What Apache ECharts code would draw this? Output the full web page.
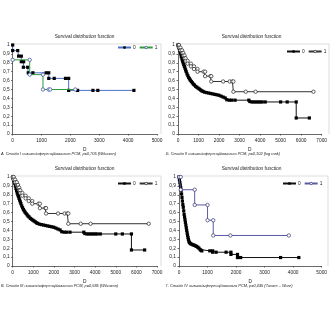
<!DOCTYPE html>
<html>
<head>
<meta charset="utf-8">
<script src="https://cdn.jsdelivr.net/npm/echarts@6/dist/echarts.min.js"></script>
<style>
  html, body { margin: 0; padding: 0; background: #fff; }
  #chart { width: 330px; height: 330px; }
</style>
</head>
<body>
<div id="chart"></div>
<script>
// Kaplan–Meier survival estimates, [days, survival] pairs, one pair per step corner.
const stage1Group0 = [[0,1],[0,0.9375],[175,0.9375],[205,0.875],[300,0.875],[300,0.8125],[380,0.8125],[370,0.75],[520,0.75],[540,0.6875],[700,0.6875],[1160,0.6875],[1250,0.6875],[1250,0.625],[1440,0.625],[1830,0.625],[1940,0.625],[1940,0.49],[2250,0.49],[2780,0.49],[2950,0.49],[4200,0.49]];
const stage1Group1 = [[0,0.833],[590,0.833],[590,0.667],[1050,0.667],[1050,0.5],[1250,0.5],[1300,0.5],[2170,0.5]];

const stage2Group0 = [[0,1],[20,0.99],[40,0.975],[60,0.96],[80,0.945],[100,0.93],[130,0.9],[160,0.87],[190,0.845],[220,0.82],[250,0.8],[280,0.78],[310,0.76],[340,0.74],[370,0.72],[400,0.7],[440,0.675],[480,0.655],[520,0.635],[560,0.62],[600,0.605],[650,0.59],[700,0.575],[750,0.56],[800,0.55],[860,0.535],[920,0.525],[980,0.515],[1040,0.505],[1100,0.495],[1160,0.485],[1220,0.478],[1300,0.47],[1400,0.465],[1500,0.46],[1600,0.455],[1700,0.45],[1800,0.445],[1900,0.44],[2000,0.435],[2100,0.425],[2200,0.415],[2300,0.405],[2380,0.385],[2500,0.38],[2620,0.38],[2780,0.38],[3450,0.38],[3500,0.365],[3600,0.36],[3700,0.36],[3800,0.36],[3900,0.36],[4000,0.36],[4100,0.36],[4250,0.36],[5000,0.36],[5320,0.36],[5760,0.36],[5760,0.18],[6400,0.18]];
const stage2Group1 = [[0,1],[50,1],[50,0.97],[120,0.97],[120,0.94],[200,0.94],[200,0.91],[260,0.91],[260,0.88],[320,0.88],[320,0.85],[370,0.85],[370,0.82],[470,0.82],[470,0.79],[630,0.79],[630,0.76],[780,0.76],[780,0.73],[950,0.73],[950,0.7],[1250,0.7],[1320,0.7],[1320,0.65],[1580,0.65],[1620,0.65],[1620,0.59],[2200,0.59],[2520,0.59],[2650,0.59],[2700,0.59],[2700,0.475],[3300,0.475],[3780,0.475],[6600,0.475]];

const stage3Group0 = [[0,1],[20,0.99],[40,0.975],[60,0.96],[80,0.945],[100,0.93],[130,0.9],[160,0.87],[190,0.845],[220,0.82],[250,0.8],[280,0.78],[310,0.76],[340,0.74],[370,0.72],[400,0.7],[440,0.675],[480,0.655],[520,0.635],[560,0.62],[600,0.605],[650,0.59],[700,0.575],[750,0.56],[800,0.55],[860,0.535],[920,0.525],[980,0.515],[1040,0.505],[1100,0.495],[1160,0.485],[1220,0.478],[1300,0.47],[1400,0.465],[1500,0.46],[1600,0.455],[1700,0.45],[1800,0.445],[1900,0.44],[2000,0.435],[2100,0.425],[2200,0.415],[2300,0.405],[2380,0.385],[2500,0.38],[2620,0.38],[2780,0.38],[3450,0.38],[3500,0.365],[3600,0.36],[3700,0.36],[3800,0.36],[3900,0.36],[4000,0.36],[4100,0.36],[4250,0.36],[5000,0.36],[5320,0.36],[5760,0.36],[5760,0.18],[6400,0.18]];
const stage3Group1 = [[0,1],[50,1],[50,0.97],[120,0.97],[120,0.94],[200,0.94],[200,0.91],[260,0.91],[260,0.88],[320,0.88],[320,0.85],[370,0.85],[370,0.82],[470,0.82],[470,0.79],[630,0.79],[630,0.76],[780,0.76],[780,0.73],[950,0.73],[950,0.7],[1250,0.7],[1320,0.7],[1320,0.65],[1580,0.65],[1620,0.65],[1620,0.59],[2200,0.59],[2520,0.59],[2650,0.59],[2700,0.59],[2700,0.475],[3300,0.475],[3780,0.475],[6600,0.475]];

const stage4Group0 = [[0,1],[15,0.97],[30,0.94],[45,0.91],[60,0.88],[75,0.85],[90,0.81],[105,0.77],[120,0.73],[135,0.69],[150,0.66],[165,0.62],[180,0.58],[195,0.55],[210,0.52],[225,0.49],[240,0.46],[255,0.43],[270,0.4],[285,0.37],[300,0.345],[315,0.32],[330,0.3],[345,0.28],[365,0.265],[390,0.255],[420,0.248],[460,0.242],[500,0.237],[540,0.232],[580,0.226],[620,0.22],[660,0.21],[700,0.2],[740,0.185],[770,0.175],[800,0.17],[1080,0.17],[1180,0.17],[1180,0.155],[1300,0.155],[1650,0.155],[1820,0.155],[1820,0.13],[2050,0.13],[2050,0.095],[2160,0.095],[3560,0.095],[4200,0.095]];
const stage4Group1 = [[0,1],[60,1],[60,0.857],[550,0.857],[550,0.686],[1000,0.686],[1000,0.514],[1200,0.514],[1200,0.343],[1800,0.343],[3850,0.343]];

const chartTitle = 'Survival distribution function';
const captions = [
  'А. Стадія І низькодиференційованого РСМ, p=0,705 (Wilcoxon)',
  'Б. Стадія ІІ низькодиференційованого РСМ, p=0,102 (log rank)',
  'В. Стадія ІІІ низькодиференційованого РСМ, p=0,585 (Wilcoxon)',
  'Г. Стадія IV низькодиференційованого РСМ, p=0,035 (Tarone – Ware)'
];
const xMax = [5000, 7000, 7000, 5000];
const xStep = 1000;
const yTickStep = 0.1;

const FONT = 'Liberation Sans';
const TXT = '#222';

const grids = [
  { left: 12, top: 45, width: 145, height: 89 },
  { left: 178, top: 45, width: 147, height: 89 },
  { left: 12, top: 177, width: 145, height: 89 },
  { left: 179, top: 177, width: 145, height: 89 }
];

const panels = [
  { key: 'A', g0: stage1Group0, g1: stage1Group1, line0: '#4a72c8', line1: '#2e9a3c', circ: '#2c3f96', legendLeft: 117, legendTop: 45 },
  { key: 'B', g0: stage2Group0, g1: stage2Group1, line0: '#111', line1: '#333', circ: '#222', legendLeft: 286, legendTop: 49 },
  { key: 'C', g0: stage3Group0, g1: stage3Group1, line0: '#111', line1: '#333', circ: '#222', legendLeft: 117, legendTop: 181 },
  { key: 'D', g0: stage4Group0, g1: stage4Group1, line0: '#111', line1: '#5a5aa8', circ: '#33336e', legendLeft: 282, legendTop: 181 }
];

const xAxes = [], yAxes = [], series = [], legends = [], titles = [], frames = [];
panels.forEach((p, i) => {
  const g = grids[i];
  xAxes.push({
    type: 'value', gridIndex: i, min: 0, max: xMax[i], interval: xStep,
    name: 'D', nameLocation: 'middle', nameGap: 13,
    nameTextStyle: { fontFamily: FONT, fontSize: 4.8, color: TXT },
    axisLine: { lineStyle: { color: '#444', width: 0.8 } },
    axisTick: { show: true, length: 1.5, lineStyle: { color: '#444', width: 0.8 } },
    axisLabel: { fontFamily: FONT, fontSize: 4.8, color: TXT, margin: 4, formatter: v => String(v) },
    splitLine: { show: false }
  });
  yAxes.push({
    type: 'value', gridIndex: i, min: 0, max: 1, interval: yTickStep,
    axisLine: { show: true, lineStyle: { color: '#444', width: 0.8 } },
    axisTick: { show: true, length: 1.5, lineStyle: { color: '#444', width: 0.8 } },
    axisLabel: { fontFamily: FONT, fontSize: 4.8, color: TXT, margin: 3,
      formatter: v => (Math.round(v * 10) / 10).toString().replace('.', ',') },
    splitLine: { show: false }
  });
  series.push({
    name: p.key + '0', type: 'line', xAxisIndex: i, yAxisIndex: i, data: p.g0,
    symbol: 'rect', symbolSize: 3.2, showAllSymbol: true,
    lineStyle: { color: p.line0, width: 1 },
    itemStyle: { color: '#000', borderWidth: 0 },
    animation: false, z: 3
  });
  series.push({
    name: p.key + '1', type: 'line', xAxisIndex: i, yAxisIndex: i, data: p.g1,
    symbol: 'circle', symbolSize: 3.4, showAllSymbol: true,
    lineStyle: { color: p.line1, width: 1 },
    itemStyle: { color: '#fff', borderColor: p.circ, borderWidth: 0.7 },
    animation: false, z: 4
  });
  legends.push({
    data: [
      { name: p.key + '0' },
      { name: p.key + '1', itemStyle: { color: '#fff', borderColor: p.circ, borderWidth: 0.7 } }
    ],
    left: p.legendLeft, top: p.legendTop,
    itemWidth: 13, itemHeight: 3, itemGap: 3,
    formatter: n => n.slice(1),
    textStyle: { fontFamily: FONT, fontSize: 4.8, color: TXT, padding: [0, 0, 0, -3] },
    selectedMode: false, padding: 0
  });
  titles.push({
    text: chartTitle, left: g.left + g.width / 2, top: g.top - 11, textAlign: 'center',
    textStyle: { fontFamily: FONT, fontSize: 4.8, fontWeight: 'normal', color: TXT }, padding: 0
  });
  titles.push({
    text: captions[i], left: i % 2 === 0 ? 1 : 166, top: g.top + 107,
    textStyle: { fontFamily: FONT, fontSize: 3.9, fontWeight: 'normal', fontStyle: 'italic', color: TXT }, padding: 0
  });
  // light plot-area frame along the top and right
  frames.push({
    type: 'polyline',
    shape: { points: [[g.left, g.top - 1], [g.left + g.width + 4, g.top - 1], [g.left + g.width + 4, g.top + g.height]] },
    style: { stroke: '#c8c8c8', lineWidth: 0.6, fill: null }, silent: true
  });
});

const chart = echarts.init(document.getElementById('chart'), null, { renderer: 'canvas' });
chart.setOption({
  backgroundColor: '#fff',
  animation: false,
  title: titles,
  legend: legends,
  grid: grids,
  xAxis: xAxes,
  yAxis: yAxes,
  series: series,
  graphic: frames
});
</script>
</body>
</html>
